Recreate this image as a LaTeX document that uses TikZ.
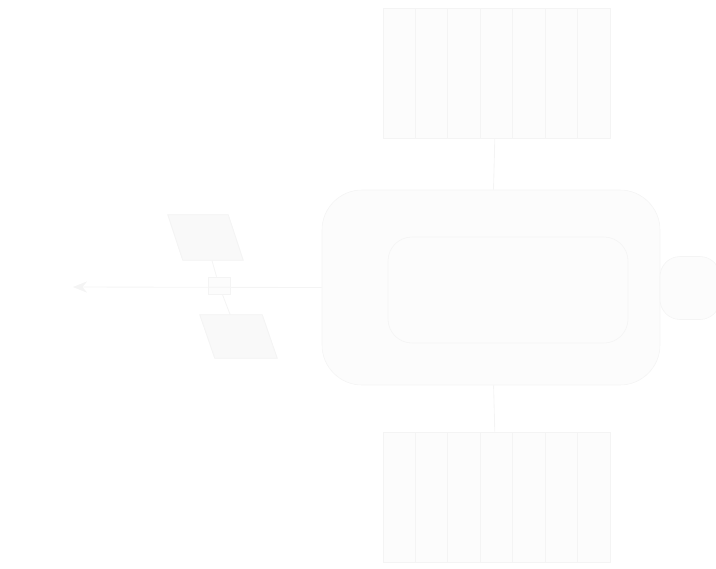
\documentclass[tikz,border=0pt]{standalone}
\usepackage{tikz}
\usetikzlibrary{shapes,arrows,positioning,calc,arrows.meta}

\newcommand{\pxu}{0.025cm}
\definecolor{ghostfill}{HTML}{FCFCFC}
\definecolor{ghostdark}{HTML}{F9F9F9}
\definecolor{ghostline}{HTML}{F4F4F4}

\tikzset{
  ghostbox/.style={draw=ghostline, fill=ghostfill, rectangle, inner sep=0pt},
  ghostslot/.style={rectangle, inner sep=0pt},
  ghostwire/.style={draw=ghostline, line width=0.6pt}
}

\begin{document}
\begin{tikzpicture}[x=\pxu, y=-\pxu]
    \useasboundingbox (0,0) rectangle (716,568);

    % stores above and below the main block
    \node (top) [ghostbox, minimum width=227*\pxu, minimum height=130*\pxu] at (496.5,73) {};
    \node (bottom) [ghostbox, minimum width=227*\pxu, minimum height=130*\pxu] at (496.5,497) {};
    \foreach \i in {1,...,6} {
        \draw[ghostwire] ($(top.north west)!\i/7!(top.north east)$) -- ($(top.south west)!\i/7!(top.south east)$);
        \draw[ghostwire] ($(bottom.north west)!\i/7!(bottom.north east)$) -- ($(bottom.south west)!\i/7!(bottom.south east)$);
    }

    % main block
    \node (main) [ghostbox, rounded corners=1cm, minimum width=338*\pxu, minimum height=195*\pxu] at (491,287.5) {};
    \node (core) [draw=ghostline, rounded corners=0.6cm, inner sep=0pt, minimum width=240*\pxu, minimum height=106*\pxu] at (508,290) {};
    \node (stub) [ghostbox, rounded corners=0.5cm, minimum width=60*\pxu, minimum height=63*\pxu] at (690,288) {};

    % labels on the left wire
    \node (upper) [ghostslot, minimum width=60*\pxu, minimum height=45*\pxu] at (205.5,237.5) {};
    \node (lower) [ghostslot, minimum width=62*\pxu, minimum height=43*\pxu] at (238.5,336.5) {};
    \foreach \n in {upper,lower}
        \filldraw[ghostwire, fill=ghostdark] ($(\n.north west)+(-7.5,0)$) -- ($(\n.north east)+(-7.5,0)$)
            -- ($(\n.south east)+(7.5,0)$) -- ($(\n.south west)+(7.5,0)$) -- cycle;
    \node (tag) [ghostbox, minimum width=22*\pxu, minimum height=17*\pxu] at (219,285.5) {};
    \coordinate (out) at (73,287);

    \draw[ghostwire] (top) -- (main);
    \draw[ghostwire] (main) -- (bottom);
    \draw[ghostwire, -{Stealth[length=10pt, width=8pt]}] (main.west) -- (out);
    \draw[ghostwire] (upper) -- (tag);
    \draw[ghostwire] (tag) -- (lower);
\end{tikzpicture}
\end{document}
